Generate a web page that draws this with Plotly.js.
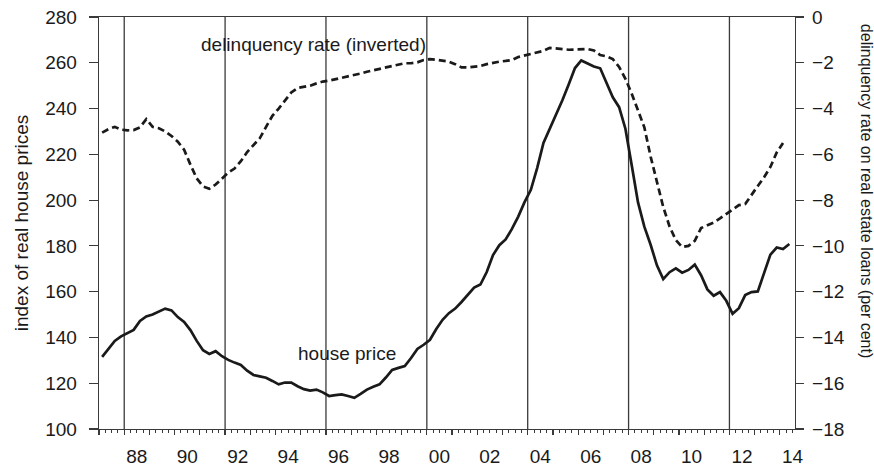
<!DOCTYPE html>
<html>
<head>
<meta charset="utf-8">
<script src="https://cdn.plot.ly/plotly-3.0.1.min.js"></script>
<style>html,body{margin:0;padding:0;background:#fff;}#chart{width:874px;height:468px;}</style>
</head>
<body>
<div id="chart"></div>
<script>
// Quarterly data, 1987Q1 onwards (plotted at mid-quarter)
const firstYear = 1987;
const housePrice = [
  131.5, 134.8, 138.5, 140.5,   // 1987
  141.8, 143.3, 147.2, 149.2,   // 1988
  150.0, 151.2, 152.6, 151.8,   // 1989
  148.9, 146.8, 143.2, 138.5,   // 1990
  134.4, 132.8, 134.0, 131.8,   // 1991
  130.2, 129.0, 128.0, 125.5,   // 1992
  123.6, 123.0, 122.4, 121.0,   // 1993
  119.5, 120.3, 120.3, 118.7,   // 1994
  117.4, 116.8, 117.2, 116.0,   // 1995
  114.4, 114.8, 115.1, 114.4,   // 1996
  113.6, 115.3, 117.2, 118.5,   // 1997
  119.5, 122.5, 125.8, 126.7,   // 1998
  127.5, 131.0, 135.0, 136.8,   // 1999
  139.0, 143.7, 147.7, 150.6,   // 2000
  152.6, 155.5, 158.8, 161.8,   // 2001
  163.1, 168.6, 176.0, 180.3,   // 2002
  182.8, 187.4, 192.8, 199.1,   // 2003
  204.5, 214.0, 225.0, 231.2,   // 2004
  236.8, 243.6, 250.5, 257.7,   // 2005
  261.0, 259.8, 258.4, 257.6,   // 2006
  251.6, 244.9, 240.6, 231.2,   // 2007
  215.2, 199.0, 188.4, 180.5,   // 2008
  171.5, 165.5, 168.5, 170.2,   // 2009
  168.3, 169.5, 171.8, 167.2,   // 2010
  161.0, 158.2, 159.8, 156.0,   // 2011
  150.3, 152.8, 158.5, 159.8,   // 2012
  160.1, 168.4, 176.2, 179.3,   // 2013
  178.6, 180.8                  // 2014
];
const delinquencyInverted = [
  -5.05, -4.90, -4.80, -4.92,   // 1987
  -4.95, -4.94, -4.82, -4.46,   // 1988
  -4.80, -4.86, -5.00, -5.20,   // 1989
  -5.45, -5.80, -6.45, -7.05,   // 1990
  -7.40, -7.50, -7.32, -7.05,   // 1991
  -6.80, -6.62, -6.30, -5.90,   // 1992
  -5.60, -5.30, -4.80, -4.32,   // 1993
  -4.00, -3.65, -3.30, -3.10,   // 1994
  -3.06, -3.00, -2.90, -2.82,   // 1995
  -2.78, -2.72, -2.68, -2.62,   // 1996
  -2.55, -2.47, -2.39, -2.33,   // 1997
  -2.27, -2.20, -2.12, -2.06,   // 1998
  -2.02, -2.02, -1.98, -1.88,   // 1999
  -1.84, -1.87, -1.90, -1.95,   // 2000
  -2.06, -2.20, -2.20, -2.18,   // 2001
  -2.14, -2.06, -2.00, -1.95,   // 2002
  -1.92, -1.88, -1.75, -1.68,   // 2003
  -1.62, -1.55, -1.48, -1.35,   // 2004
  -1.38, -1.41, -1.43, -1.42,   // 2005
  -1.41, -1.40, -1.46, -1.66,   // 2006
  -1.72, -1.84, -2.18, -2.70,   // 2007
  -3.35, -4.10, -4.82, -6.10,   // 2008
  -7.20, -8.30, -9.15, -9.75,   // 2009
  -10.05, -10.00, -9.78, -9.22, // 2010
  -9.10, -8.98, -8.80, -8.60,   // 2011
  -8.40, -8.22, -8.17, -7.75,   // 2012
  -7.38, -7.00, -6.55, -5.92,   // 2013
  -5.50                         // 2014
];
const tickLabels = ['88', '90', '92', '94', '96', '98', '00', '02', '04', '06', '08', '10', '12', '14'];
const tickLabelYears = [1988, 1990, 1992, 1994, 1996, 1998, 2000, 2002, 2004, 2006, 2008, 2010, 2012, 2014];
const cycleYears = [1988, 1992, 1996, 2000, 2004, 2008, 2012];

// mid-quarter time positions
const quarterTime = n => Array.from({length: n}, (_, i) => firstYear + (i + 0.5) / 4);
const labelPos = tickLabelYears.map(y => y + 0.5);

const FONT = '"Liberation Sans", Arial, sans-serif';
const INK = '#1a1a1a';
const AX = '#3a3a3a';

const traces = [
  {
    x: quarterTime(housePrice.length), y: housePrice,
    type: 'scatter', mode: 'lines', name: 'house price',
    line: {color: INK, width: 2.7}, xaxis: 'x', yaxis: 'y', hoverinfo: 'skip'
  },
  {
    x: quarterTime(delinquencyInverted.length), y: delinquencyInverted,
    type: 'scatter', mode: 'lines', name: 'delinquency rate (inverted)',
    line: {color: INK, width: 2.7, dash: '7px,4px'}, xaxis: 'x', yaxis: 'y2', hoverinfo: 'skip'
  },
  {
    x: labelPos, y: labelPos.map(() => null), type: 'scatter', mode: 'lines',
    xaxis: 'x2', yaxis: 'y', showlegend: false, hoverinfo: 'skip', line: {width: 0}
  }
];

const layout = {
  width: 874, height: 468,
  margin: {l: 99, r: 79, t: 17, b: 39},
  paper_bgcolor: '#fff', plot_bgcolor: '#fff',
  showlegend: false,
  font: {family: FONT, size: 19, color: INK},
  xaxis: {
    range: [1987, 2014.6], tick0: 1987, dtick: 1,
    ticks: 'outside', ticklen: 5, tickwidth: 1.2, tickcolor: AX,
    showticklabels: false, showline: true, linecolor: AX, linewidth: 1.3, mirror: true,
    showgrid: false, zeroline: false,
    minor: {tick0: 1987, dtick: 0.25, ticks: 'outside', ticklen: 3, tickwidth: 1, tickcolor: AX}
  },
  xaxis2: {
    overlaying: 'x', anchor: 'y', side: 'bottom',
    range: [1987, 2014.6], tickmode: 'array', tickvals: labelPos, ticktext: tickLabels,
    ticks: '', showline: false, showgrid: false, zeroline: false,
    ticklabelstandoff: 14, tickfont: {family: FONT, size: 19, color: INK}
  },
  yaxis: {
    range: [100, 280], tick0: 100, dtick: 20,
    ticks: 'outside', ticklen: 9, tickwidth: 1.2, tickcolor: AX,
    showline: true, linecolor: AX, linewidth: 1.3,
    showgrid: false, zeroline: false, ticklabelstandoff: 8,
    tickfont: {family: FONT, size: 19, color: INK},
    title: {text: 'index of real house prices', font: {family: FONT, size: 19, color: INK}, standoff: 11}
  },
  yaxis2: {
    overlaying: 'y', side: 'right', anchor: 'x',
    range: [-18, 0], tick0: 0, dtick: 2,
    ticks: 'outside', ticklen: 8, tickwidth: 1.2, tickcolor: AX,
    showline: true, linecolor: AX, linewidth: 1.3,
    showgrid: false, zeroline: false, ticklabelstandoff: 4,
    tickfont: {family: FONT, size: 19, color: INK}
  },
  shapes: cycleYears.map(yr => ({
    type: 'line', xref: 'x', yref: 'paper', x0: yr, x1: yr, y0: 0, y1: 1,
    line: {color: AX, width: 1.3}, layer: 'below'
  })),
  annotations: [
    {text: 'delinquency rate (inverted)', xref: 'x', yref: 'y', x: 1995.5, y: 268,
     showarrow: false, font: {family: FONT, size: 19, color: INK}, xanchor: 'center', yanchor: 'middle'},
    {text: 'house price', xref: 'x', yref: 'y', x: 1996.85, y: 133,
     showarrow: false, font: {family: FONT, size: 19, color: INK}, xanchor: 'center', yanchor: 'middle'},
    {text: 'delinquency rate on real estate loans (per cent)', xref: 'paper', yref: 'paper',
     x: 1.102, y: 0.578, textangle: 90, showarrow: false,
     font: {family: FONT, size: 16, color: INK}, xanchor: 'center', yanchor: 'middle'}
  ]
};

Plotly.newPlot('chart', traces, layout, {staticPlot: true, displayModeBar: false});
</script>
</body>
</html>
